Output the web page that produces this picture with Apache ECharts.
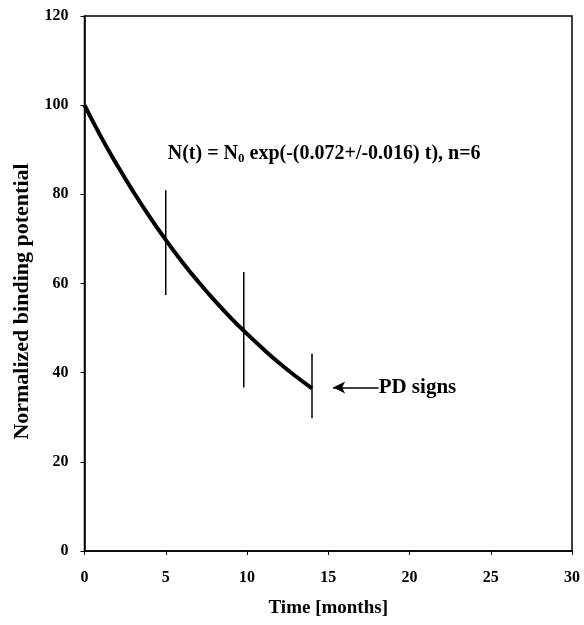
<!DOCTYPE html>
<html><head><meta charset="utf-8">
<script src="https://cdn.jsdelivr.net/npm/echarts@6/dist/echarts.min.js"></script>
<style>html,body{margin:0;padding:0;background:#fff}#c{width:584px;height:625px}</style>
</head><body><div id="c"></div>
<script>
// Fitted curve (months, normalized binding potential)
var curveT = [0, 1, 2, 3, 4, 5, 6, 7, 8, 9, 10, 11, 12, 13, 14];
var curveV = [100, 93, 86.6, 80.6, 75, 69.8, 64.9, 60.4, 56.2, 52.3, 48.7, 45.3, 42.1, 39.2, 36.5];
// Error bars
var barT = [5, 9.8, 14];
var barLow = [57.4, 36.7, 29.8];
var barHigh = [80.9, 62.6, 44.3];
// Axis ticks
var xTicks = [0, 5, 10, 15, 20, 25, 30];
var yTicks = [0, 20, 40, 60, 80, 100, 120];
// Annotations
var formulaPos = [14.75, 89];
var arrowFrom = [18.1, 36.7];
var arrowTo = [15.3, 36.7];

var FONT = '"Liberation Serif","Times New Roman",serif';
var chart = echarts.init(document.getElementById('c'), null, {renderer: 'canvas'});

var lineData = curveT.map(function (t, i) { return [t, curveV[i]]; });
var barData = barT.map(function (t, i) { return [t, barLow[i], barHigh[i]]; });

chart.setOption({
  animation: false,
  backgroundColor: '#fff',
  grid: {left: 84.5, right: 12, top: 16, bottom: 74, show: true, borderColor: '#000', borderWidth: 1.5},
  xAxis: {
    type: 'value', min: xTicks[0], max: xTicks[xTicks.length - 1], interval: 5,
    name: 'Time [months]', nameLocation: 'middle', nameGap: 48,
    nameTextStyle: {fontFamily: FONT, fontWeight: 'bold', fontSize: 19, color: '#000'},
    axisLine: {lineStyle: {color: '#000', width: 1.5}},
    axisTick: {show: true, length: 4, lineStyle: {color: '#000'}},
    axisLabel: {fontFamily: FONT, fontWeight: 'bold', fontSize: 16, color: '#000', margin: 19},
    splitLine: {show: false}
  },
  yAxis: {
    type: 'value', min: yTicks[0], max: yTicks[yTicks.length - 1], interval: 20,
    name: 'Normalized binding potential', nameLocation: 'middle', nameGap: 51,
    nameTextStyle: {fontFamily: FONT, fontWeight: 'bold', fontSize: 22, color: '#000', padding: [0, 36, 0, 0]},
    axisLine: {lineStyle: {color: '#000', width: 1.5}},
    axisTick: {show: true, length: 4, lineStyle: {color: '#000'}},
    axisLabel: {fontFamily: FONT, fontWeight: 'bold', fontSize: 16, color: '#000', margin: 16},
    splitLine: {show: false}
  },
  series: [
    {
      type: 'line', data: lineData, smooth: true, showSymbol: false,
      lineStyle: {color: '#000', width: 4}, z: 3,
      markPoint: {
        symbol: 'circle', symbolSize: 0,
        label: {show: true, color: '#000', fontFamily: FONT, fontWeight: 'bold', fontSize: 21},
        data: [
          {coord: formulaPos, label: {
            position: 'inside', align: 'center', verticalAlign: 'middle',
            formatter: '{a|N(t) = N}{s|0}{a| exp(-(0.072+/-0.016) t), n=6}',
            rich: {
              a: {fontFamily: FONT, fontWeight: 'bold', fontSize: 20, color: '#000'},
              s: {fontFamily: FONT, fontWeight: 'bold', fontSize: 13, color: '#000', verticalAlign: 'bottom', padding: [9, 0, 0, 0]}
            }
          }},
          {coord: arrowFrom, label: {position: 'right', distance: 0, formatter: 'PD signs'}}
        ]
      },
      markLine: {
        silent: true, symbol: ['none', 'arrow'], symbolSize: [9, 12],
        lineStyle: {color: '#000', width: 1.5, type: 'solid'},
        label: {show: false},
        data: [[{coord: arrowFrom}, {coord: arrowTo}]]
      }
    },
    {
      type: 'custom', data: barData, z: 2,
      renderItem: function (params, api) {
        var top = api.coord([api.value(0), api.value(2)]);
        var bot = api.coord([api.value(0), api.value(1)]);
        return {type: 'line', shape: {x1: top[0], y1: top[1], x2: bot[0], y2: bot[1]},
                style: {stroke: '#000', lineWidth: 1.5}};
      }
    }
  ]
});
</script></body></html>
